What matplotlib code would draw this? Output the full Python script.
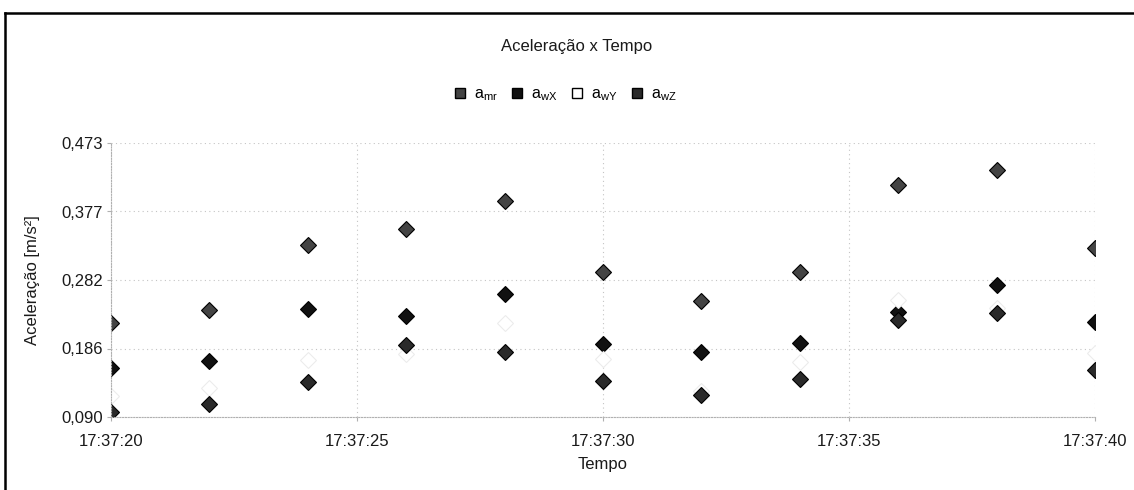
import datetime as dt

import matplotlib
matplotlib.use('Agg')
import matplotlib.pyplot as plt
import matplotlib.dates as mdates
from matplotlib.lines import Line2D

plt.rcParams['font.family'] = ['Liberation Sans', 'DejaVu Sans']
plt.rcParams['mathtext.fontset'] = 'custom'
plt.rcParams['mathtext.rm'] = 'Liberation Sans'

# data (one sample every 2 s)
times = ['17:37:20', '17:37:22', '17:37:24', '17:37:26', '17:37:28', '17:37:30',
         '17:37:32', '17:37:34', '17:37:36', '17:37:38', '17:37:40']
a_mr = [0.221, 0.240, 0.330, 0.353, 0.392, 0.293, 0.252, 0.293, 0.414, 0.435, 0.326]
a_wx = [0.159, 0.168, 0.241, 0.231, 0.262, 0.192, 0.181, 0.193, 0.237, 0.275, 0.223]
a_wy = [0.120, 0.130, 0.170, 0.178, 0.222, 0.171, 0.127, 0.167, 0.254, 0.242, 0.180]
a_wz = [0.097, 0.108, 0.139, 0.191, 0.181, 0.140, 0.121, 0.143, 0.226, 0.235, 0.156]

series_names = [r'$\mathrm{a_{mr}}$', r'$\mathrm{a_{wX}}$', r'$\mathrm{a_{wY}}$', r'$\mathrm{a_{wZ}}$']
series_colors = ['#444444', '#111111', '#ffffff', '#2a2a2a']

y_ticks = [0.090, 0.18575, 0.2815, 0.37725, 0.473]
y_ticklabels = ['0,090', '0,186', '0,282', '0,377', '0,473']

t = [dt.datetime.strptime('2020-01-01 ' + s, '%Y-%m-%d %H:%M:%S') for s in times]

fig = plt.figure(figsize=(11.34, 4.9), dpi=100)
ax = fig.add_axes([111 / 1134, 1 - 417 / 490, 984 / 1134, 274 / 490])

for vals, col in zip([a_mr, a_wx, a_wy, a_wz], series_colors):
    # the white series is almost invisible on the white background
    edge = '#ececec' if col == '#ffffff' else '#000000'
    ax.plot(t, vals, linestyle='none', marker='D', markersize=8.5,
            markerfacecolor=col, markeredgecolor=edge, markeredgewidth=0.8)

ax.set_xlim(t[0], t[-1])
ax.set_ylim(y_ticks[0], y_ticks[-1])
ax.set_yticks(y_ticks)
ax.set_yticklabels(y_ticklabels)
ax.xaxis.set_major_locator(mdates.SecondLocator(bysecond=range(0, 60, 5)))
ax.xaxis.set_major_formatter(mdates.DateFormatter('%H:%M:%S'))

ax.grid(True, color='#c4c4c4', linestyle=(0, (1, 3)), linewidth=0.8)
for side in ['top', 'right']:
    ax.spines[side].set_visible(False)
for side in ['left', 'bottom']:
    ax.spines[side].set_color('#b0b0b0')
    ax.spines[side].set_linestyle((0, (1, 1.5)))
    ax.spines[side].set_linewidth(0.8)

ax.tick_params(axis='both', colors='#b0b0b0', labelcolor='#1a1a1a',
               labelsize=12, length=3)
ax.tick_params(axis='x', pad=9)
ax.tick_params(axis='y', pad=3)

ax.set_ylabel('Aceleração [m/s²]', fontsize=12, color='#1a1a1a')
ax.yaxis.set_label_coords(-71 / 984, 0.5)
ax.set_xlabel('Tempo', fontsize=12, color='#1a1a1a')
ax.xaxis.set_label_coords(0.5, -(464 - 417) / 274)
ax.xaxis.label.set_va('center')

fig.text(577 / 1134, 1 - 46 / 490, 'Aceleração x Tempo', ha='center', va='center',
         fontsize=12, color='#1a1a1a')

handles = [Line2D([], [], linestyle='none', marker='s', markersize=7.5,
                  markerfacecolor=c, markeredgecolor='#000000', markeredgewidth=1.0)
           for c in series_colors]
fig.legend(handles, series_names, loc='center', bbox_to_anchor=(565 / 1134, 1 - 95 / 490),
           ncol=4, frameon=False, fontsize=11.5, handlelength=0.8, handletextpad=0.5,
           columnspacing=0.8, borderaxespad=0)

# outer frame of the original screenshot (left and top edges)
fig.add_artist(Line2D([5 / 1134, 5 / 1134], [0, 1 - 13 / 490], color='black',
                      linewidth=1.8, transform=fig.transFigure))
fig.add_artist(Line2D([5 / 1134, 1], [1 - 13 / 490, 1 - 13 / 490], color='black',
                      linewidth=1.8, transform=fig.transFigure))

fig.savefig('out.png', dpi=100)
